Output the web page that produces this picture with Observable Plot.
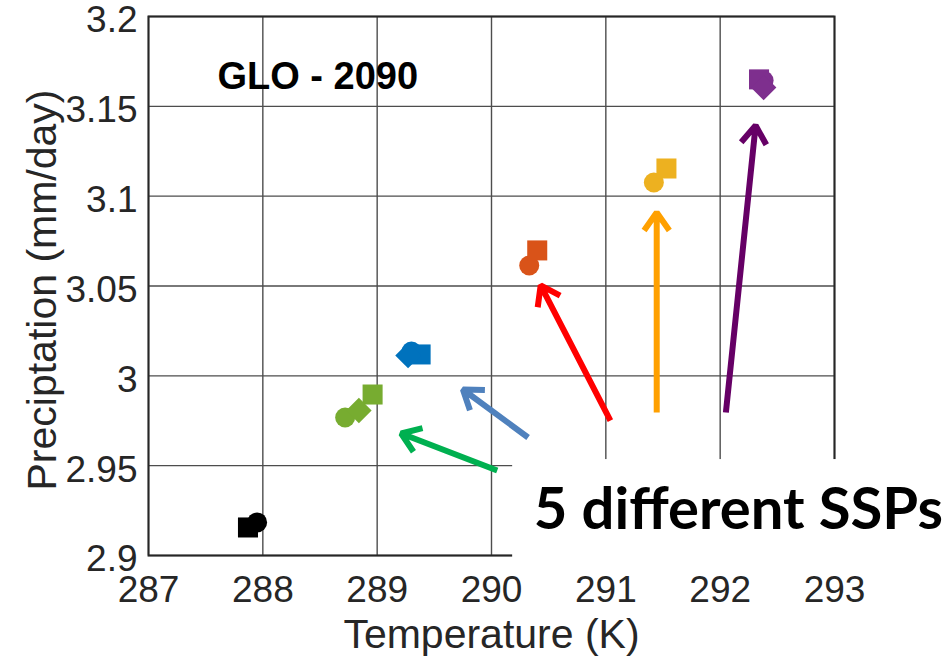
<!DOCTYPE html>
<html>
<head>
<meta charset="utf-8">
<script src="https://cdn.jsdelivr.net/npm/d3@7"></script>
<script src="https://cdn.jsdelivr.net/npm/@observablehq/plot@0.6"></script>
<style>
  html, body { margin: 0; padding: 0; background: #fff; }
  #chart svg { display: block; }
</style>
</head>
<body>
<div id="chart"></div>
<script>
// ---- Data ----
// Scenario groups and their colours
const groupName  = ["Baseline", "SSP1", "SSP2", "SSP3", "SSP4", "SSP5"];
const groupColor = ["#000000", "#77AC30", "#0072BD", "#D95319", "#EDB120", "#7E2F8E"];

// Individual model points: group index, marker shape, temperature (K), precipitation (mm/day)
const pointGroup   = [0, 0, 1, 1, 1, 2, 2, 2, 3, 3, 4, 4, 5, 5, 5];
const pointShape   = ["square", "circle", "circle", "diamond2", "square", "diamond2", "circle", "square",
                      "circle", "square", "circle", "square", "diamond2", "circle", "square"];
const temperature  = [287.87, 287.95, 288.72, 288.84, 288.96, 289.27, 289.30, 289.38,
                      290.33, 290.40, 291.42, 291.53, 292.38, 292.38, 292.34];
const precipitation = [2.9156, 2.9184, 2.9768, 2.9807, 2.9896, 3.0113, 3.0135, 3.0119,
                       3.0614, 3.0698, 3.1076, 3.1154, 3.1605, 3.1644, 3.1650];

// Annotation arrows (data coordinates): tail -> head
const arrowColor = ["#00B050", "#4F81BD", "#FF0000", "#FFA000", "#660066"];
const arrowX1 = [290.05, 290.32, 291.04, 291.445, 292.05];
const arrowY1 = [2.9473, 2.9657, 2.9751, 2.9796, 2.9796];
const arrowX2 = [289.21, 289.75, 290.43, 291.445, 292.31];
const arrowY2 = [2.9679, 2.9924, 3.0503, 3.0909, 3.1393];

// Axis ticks and labels
const xTicks = [287, 288, 289, 290, 291, 292, 293];
const yTicks = [2.9, 2.95, 3, 3.05, 3.1, 3.15, 3.2];
const xLabel = "Temperature (K)";
const yLabel = "Preciptation (mm/day)";
const panelTitle = ["GLO - 2090"];
const noteText = ["5 different SSPs"];
// note placement (data coords) and white backing box
const noteX = [290.37], noteY = [2.9145];
const boxX1 = [290.185], boxX2 = [294.1], boxY1 = [2.8985], boxY2 = [2.9534];
const titleX = [288.48], titleY = [3.1594];

// ---- Chart ----
const idx = d3.range(temperature.length);
const shapes = ["circle", "square", "diamond2"];
const shapeR = {circle: 10, square: 11.3, diamond2: 11.5};
const axisFont = "Liberation Sans, Arial, Helvetica, sans-serif";

const chart = Plot.plot({
  width: 951,
  height: 659,
  marginLeft: 148,
  marginRight: 117,
  marginTop: 16,
  marginBottom: 104,
  style: {fontFamily: axisFont, background: "#fff", color: "#262626"},
  x: {domain: [287, 293], ticks: xTicks},
  y: {domain: [2.9, 3.2], ticks: yTicks},
  marks: [
    Plot.gridX(xTicks, {stroke: "#4d4d4d", strokeOpacity: 1, strokeWidth: 1.4}),
    Plot.gridY(yTicks, {stroke: "#4d4d4d", strokeOpacity: 1, strokeWidth: 1.4}),
    Plot.frame({stroke: "#262626", strokeWidth: 2}),
    Plot.rect([0], {x1: () => boxX1[0], x2: () => boxX2[0], y1: () => boxY1[0], y2: () => boxY2[0], fill: "#fff"}),
    Plot.axisX({ticks: xTicks, tickSize: 0, tickPadding: 20, fontSize: 37, label: null, tickFormat: d => String(d)}),
    Plot.axisY({ticks: yTicks, tickSize: 0, tickPadding: 11, dy: 4, fontSize: 37, label: null, tickFormat: d => String(d)}),
    Plot.text([xLabel], {frameAnchor: "bottom", dy: 92, lineAnchor: "bottom", fontSize: 41, fill: "#262626"}),
    Plot.text([yLabel], {frameAnchor: "left", dx: -93, dy: 4, rotate: -90, textAnchor: "middle", lineAnchor: "bottom", fontSize: 41, fill: "#262626"}),
    ...shapes.map(s => Plot.dot(idx.filter(i => pointShape[i] === s), {
      x: i => temperature[i], y: i => precipitation[i],
      symbol: s, r: shapeR[s],
      fill: i => groupColor[pointGroup[i]], stroke: "none"
    })),
    Plot.arrow(d3.range(arrowX1.length), {
      x1: i => arrowX1[i], y1: i => arrowY1[i], x2: i => arrowX2[i], y2: i => arrowY2[i],
      stroke: i => arrowColor[i], strokeWidth: 6, headLength: 5.5, headAngle: 70, strokeLinecap: "butt"
    }),
    Plot.text(panelTitle, {x: () => titleX[0], y: () => titleY[0], textAnchor: "middle", lineAnchor: "bottom",
      fontSize: 38, fontWeight: "bold", fill: "#000", fontFamily: axisFont}),
    Plot.text(noteText, {x: () => noteX[0], y: () => noteY[0], textAnchor: "start", lineAnchor: "bottom",
      fontSize: 58, fontWeight: "bold", fill: "#000", fontFamily: "Lato, 'Open Sans', sans-serif", className: "ssp-note"})
  ]
});
document.getElementById("chart").appendChild(chart);
</script>
</body>
</html>
